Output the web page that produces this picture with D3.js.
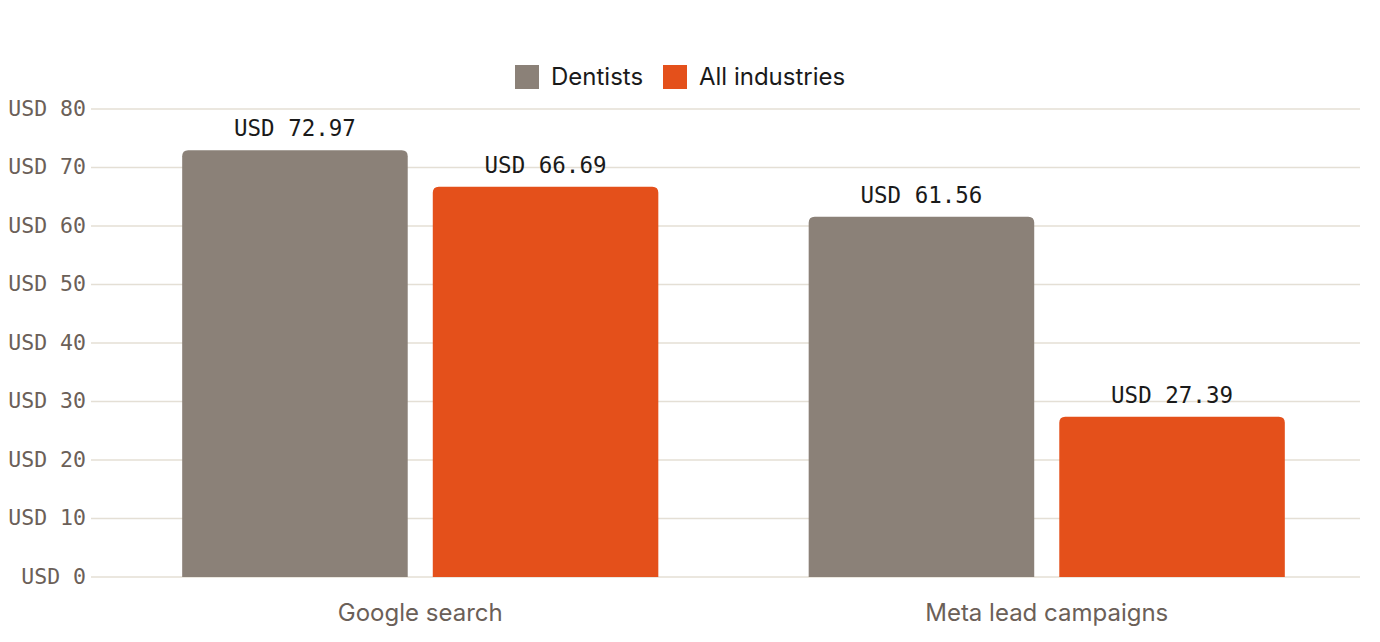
<!DOCTYPE html>
<html><head><meta charset="utf-8">
<script src="https://cdn.jsdelivr.net/npm/d3@7"></script>
<style>body{margin:0;background:#fff}svg{display:block}</style>
</head><body>
<svg id="c" width="1380" height="642"></svg>
<script>
const categories = ["Google search", "Meta lead campaigns"];
const seriesNames = ["Dentists", "All industries"];
const dentists = [72.97, 61.56];
const allIndustries = [66.69, 27.39];
const yTicks = [0, 10, 20, 30, 40, 50, 60, 70, 80];
const colors = ["#8b8178", "#e4501b"];

(function () {
const svg = d3.select("#c");
const gridLeft = 91, plotRight = 1360, plotTop = 109, plotBottom = 577;
const x0 = d3.scaleBand().domain(categories).range([107, plotRight]).paddingInner(0).paddingOuter(0);
const x1 = d3.scaleBand().domain(seriesNames).range([x0.bandwidth()*0.1, x0.bandwidth()*0.9]).paddingInner(0.1).paddingOuter(0.05);
const y = d3.scaleLinear().domain([0, 80]).range([plotBottom, plotTop]);
const mono = "'DejaVu Sans Mono', monospace";
const sans = "Inter, 'Noto Sans', sans-serif";

// grid
const g = svg.append("g");
g.selectAll("line.grid").data(yTicks).join("line")
  .attr("x1", gridLeft).attr("x2", plotRight)
  .attr("y1", d => y(d)).attr("y2", d => y(d))
  .attr("stroke", "#e4dfd5").attr("stroke-width", 1.5);

// y axis labels
const yAxis = d3.axisLeft(y).tickValues(yTicks).tickSize(0).tickPadding(0).tickFormat(d => "USD " + d);
const ya = svg.append("g").attr("transform", `translate(86,0)`).call(yAxis);
ya.select(".domain").remove();
ya.selectAll("text").attr("font-family", mono).attr("font-size", 21.5).attr("fill", "#6b6058").attr("dy", "0.3em");

// x axis labels
const xAxis = d3.axisBottom(x0).tickSize(0).tickPadding(0);
const xa = svg.append("g").attr("transform", `translate(0,${plotBottom+44})`).call(xAxis);
xa.select(".domain").remove();
xa.selectAll("text").attr("font-family", sans).attr("font-size", 24).attr("fill", "#6b6058").attr("dy", 0);

// bars
const data = categories.map((c, i) => ({cat: c, vals: [dentists[i], allIndustries[i]]}));
const r = 6;
function barPath(x, yt, w, yb) {
  return `M${x},${yb}V${yt+r}Q${x},${yt} ${x+r},${yt}H${x+w-r}Q${x+w},${yt} ${x+w},${yt+r}V${yb}Z`;
}
const groups = svg.selectAll("g.grp").data(data).join("g").attr("class", "grp").attr("transform", d => `translate(${x0(d.cat)},0)`);
groups.selectAll("path").data(d => d.vals.map((v, j) => ({v, s: seriesNames[j], j}))).join("path")
  .attr("d", d => barPath(x1(d.s), y(d.v), x1.bandwidth(), y(0)))
  .attr("fill", d => colors[d.j]);
groups.selectAll("text").data(d => d.vals.map((v, j) => ({v, s: seriesNames[j], j}))).join("text")
  .attr("x", d => x1(d.s) + x1.bandwidth()/2)
  .attr("y", d => y(d.v) - 14)
  .attr("text-anchor", "middle")
  .attr("font-family", mono).attr("font-size", 22.5).attr("fill", "#1a1a1a")
  .text(d => "USD " + d.v.toFixed(2));

// legend
const legend = svg.append("g");
const items = [{name: seriesNames[0], x: 515, c: colors[0]}, {name: seriesNames[1], x: 663, c: colors[1]}];
items.forEach(it => {
  legend.append("rect").attr("x", it.x).attr("y", 65).attr("width", 24).attr("height", 24).attr("fill", it.c);
  legend.append("text").attr("x", it.x + 36).attr("y", 85).attr("font-family", sans).attr("font-size", 24).attr("fill", "#1a1a1a").text(it.name);
});
})();
</script>
</body></html>
